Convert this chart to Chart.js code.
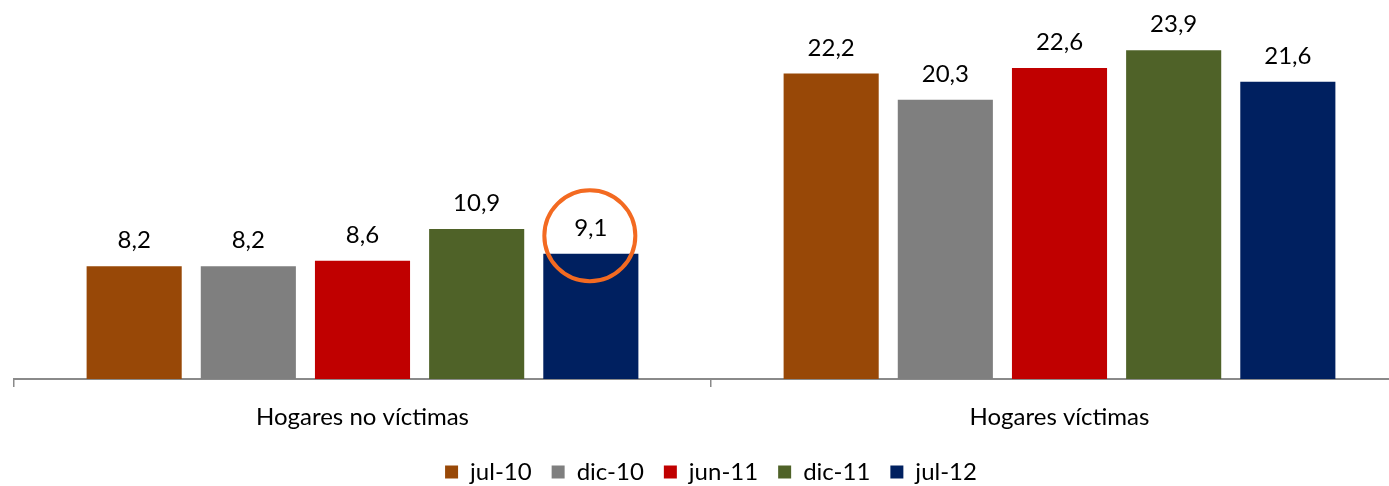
<!DOCTYPE html>
<html>
<head>
<meta charset="utf-8">
<script src="https://cdn.jsdelivr.net/npm/chart.js@4/dist/chart.umd.min.js"></script>
<style>
  html, body { margin: 0; padding: 0; background: #fff; overflow: hidden; width: 1389px; height: 486px; }
  #wrap { position: absolute; left: 0; top: 0; width: 1420px; height: 500px; }
</style>
</head>
<body>
<div id="wrap"><canvas id="c" width="1420" height="500"></canvas></div>
<script>
const categories = ["Hogares no víctimas", "Hogares víctimas"];
const seriesNames = ["jul-10", "dic-10", "jun-11", "dic-11", "jul-12"];
const jul10 = [8.2, 22.2];
const dic10 = [8.2, 20.3];
const jun11 = [8.6, 22.6];
const dic11 = [10.9, 23.9];
const jul12 = [9.1, 21.6];
const seriesColors = ["#984807", "#7F7F7F", "#C00000", "#4F6228", "#002060"];
const highlight = { series: 4, index: 0 };

const FONT = "Lato, 'Liberation Sans', sans-serif";
const FSIZE = 24;

const valuesList = [jul10, dic10, jun11, dic11, jul12];
const datasets = seriesNames.map((n, i) => ({
  label: n,
  data: valuesList[i],
  backgroundColor: seriesColors[i],
  borderWidth: 0,
  barPercentage: 0.833,
  categoryPercentage: 0.819
}));

const labelPlugin = {
  id: 'valueLabels',
  afterDatasetsDraw(chart) {
    const ctx = chart.ctx;
    ctx.save();
    ctx.font = FSIZE + "px " + FONT;
    ctx.fillStyle = "#000";
    ctx.textAlign = "center";
    ctx.textBaseline = "alphabetic";
    chart.data.datasets.forEach((ds, di) => {
      const meta = chart.getDatasetMeta(di);
      meta.data.forEach((bar, i) => {
        const v = ds.data[i];
        ctx.fillText(v.toFixed(1).replace('.', ','), bar.x, bar.y - 18);
      });
    });
    const hb = chart.getDatasetMeta(highlight.series).data[highlight.index];
    ctx.beginPath();
    ctx.arc(hb.x - 1, hb.y - 18, 45.5, 0, Math.PI * 2);
    ctx.lineWidth = 4;
    ctx.strokeStyle = "#F36A21";
    ctx.stroke();
    ctx.restore();
  }
};

new Chart(document.getElementById('c'), {
  type: 'bar',
  data: { labels: categories, datasets },
  plugins: [labelPlugin],
  options: {
    responsive: false,
    animation: false,
    layout: { padding: { top: 35, left: 14, right: 12, bottom: 6 } },
    scales: {
      x: {
        offset: true,
        grid: { display: true, offset: true, drawOnChartArea: false, drawTicks: true, tickLength: 8, color: '#8a8a8a', lineWidth: 1.5 },
        border: { display: true, color: '#8a8a8a', width: 2 },
        ticks: { color: '#000', font: { family: FONT, size: FSIZE }, padding: 16 },
        afterFit(scale) { scale.height = 61; }
      },
      y: { display: false, min: 0, max: 25 }
    },
    plugins: {
      legend: {
        position: 'bottom',
        labels: { boxWidth: 13, boxHeight: 13, padding: 20, color: '#000', font: { family: FONT, size: FSIZE } }
      },
      tooltip: { enabled: false }
    }
  }
});
</script>
</body>
</html>
